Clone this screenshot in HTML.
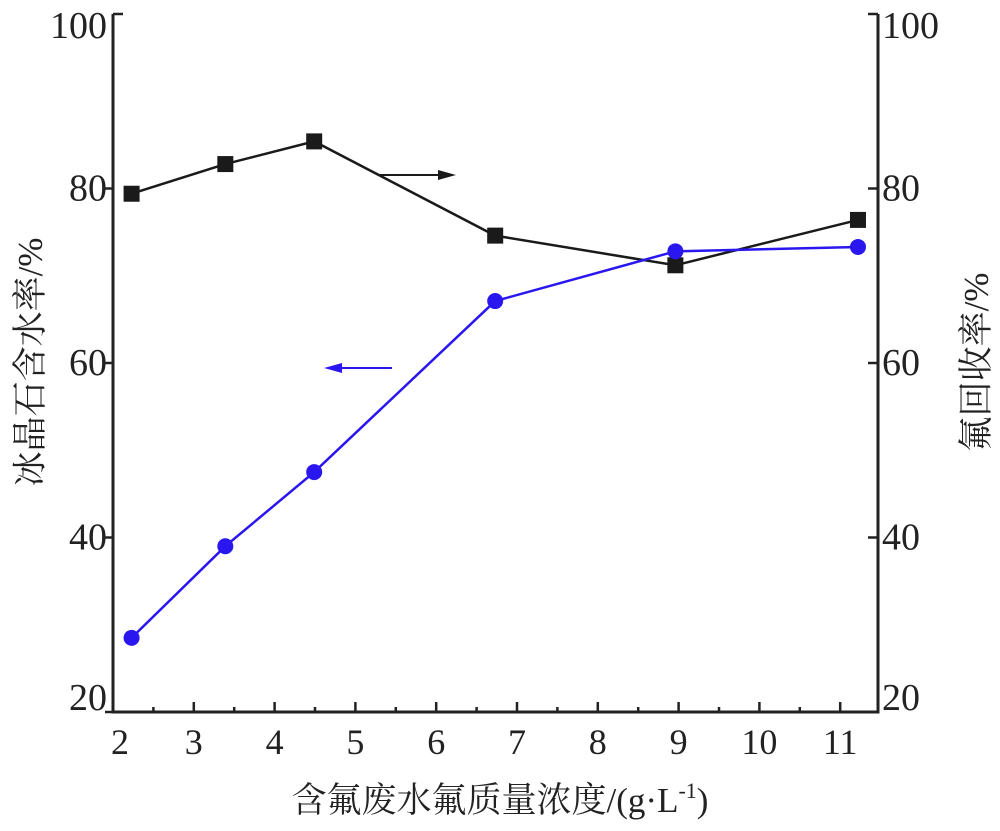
<!DOCTYPE html>
<html><head><meta charset="utf-8">
<style>
body{margin:0;background:#fff;}
svg text{font-family:"Liberation Serif","Noto Serif CJK SC",serif;fill:#222;}
</style></head>
<body>
<svg id="chart" width="1000" height="826" viewBox="0 0 1000 826" xmlns="http://www.w3.org/2000/svg">
<g id="axes"></g>
<g id="series"></g>
<text x="500" y="812" font-size="35" text-anchor="middle">含氟废水氟质量浓度/(g·L<tspan font-size="22" dy="-14">-1</tspan><tspan dy="14">)</tspan></text>
<text transform="translate(42,362) rotate(-90)" font-size="35" text-anchor="middle">冰晶石含水率/%</text>
<text transform="translate(988,362) rotate(-90)" font-size="35" text-anchor="middle">氟回收率/%</text>
</svg>
<script>
const xTicks = [2,3,4,5,6,7,8,9,10,11];
const yTicks = [20,40,60,80,100];
const xValues = [2.23,3.39,4.49,6.73,8.96,11.22];
const recoveryRate = [79.4,82.8,85.4,74.6,71.2,76.4];
const waterContent = [28.5,39.0,47.5,67.1,72.8,73.3];

const L=113,R=878,T=14,B=712;
const X0=113,XU=80.8;
function xs(v){return X0+(v-2)*XU;}
function ys(v){return B-(v-20)*(B-T)/80;}
const NS="http://www.w3.org/2000/svg";
function mk(tag,attrs,parent){const e=document.createElementNS(NS,tag);for(const k in attrs)e.setAttribute(k,attrs[k]);parent.appendChild(e);return e;}
const ax=document.getElementById('axes');
let e=mk('path',{d:`M${L},${T} V${B} H${R} V${T}`,fill:'none',stroke:'#222','stroke-width':3},ax);


xTicks.forEach((t,i)=>{
  const x=xs(t);
  let tk=mk('line',{x1:x,x2:x,y1:B,y2:B-10,stroke:'#222','stroke-width':2.5},ax);
  
  
  if(t<11){const m=mk('line',{x1:x+XU/2,x2:x+XU/2,y1:B,y2:B-5,stroke:'#222','stroke-width':2.5},ax);
  
  }
  const lb=mk('text',{x:x+(t===2?7:0),y:B+42,'font-size':36,'text-anchor':'middle'},ax);lb.textContent=t;
  
  
});
yTicks.forEach(t=>{
  const y=ys(t);
  let a=mk('line',{x1:L,x2:L+(t===100?10:-8),y1:y,y2:y,stroke:'#222','stroke-width':2.5},ax);
  
  
  let b=mk('line',{x1:R,x2:R-10,y1:y,y2:y,stroke:'#222','stroke-width':2.5},ax);
  
  
  const ty=t===100?y+24:(t===20?y-2:y+12);
  const l=mk('text',{x:L-6,y:ty,'font-size':38,'text-anchor':'end'},ax);l.textContent=t;
  
  
  const r=mk('text',{x:R+4,y:ty,'font-size':38,'text-anchor':'start'},ax);r.textContent=t;
  
  
});
const sg=document.getElementById('series');
function line(vals,color,name){
  const p=mk('polyline',{points:vals.map((v,i)=>xs(xValues[i])+','+ys(v)).join(' '),fill:'none',stroke:color,'stroke-width':2.5},sg);
  
  
}
line(recoveryRate,'#1a1a1a','recovery-rate-line');
line(waterContent,'#2a17f0','water-content-line');
recoveryRate.forEach((v,i)=>{
  const r=mk('rect',{x:xs(xValues[i])-8,y:ys(v)-8,width:16,height:16,fill:'#1a1a1a'},sg);
  
  
});
waterContent.forEach((v,i)=>{
  const c=mk('circle',{cx:xs(xValues[i]),cy:ys(v),r:8,fill:'#2a17f0'},sg);
  
  
});
let a1=mk('path',{d:'M380,175 H440',stroke:'#1a1a1a','stroke-width':2},sg);


let h1=mk('polygon',{points:'456,175 438,170 438,180',fill:'#1a1a1a'},sg);


let a2=mk('path',{d:'M392,368 H340',stroke:'#2a17f0','stroke-width':2},sg);


let h2=mk('polygon',{points:'324,368 342,363 342,373',fill:'#2a17f0'},sg);


</script>
</body></html>
